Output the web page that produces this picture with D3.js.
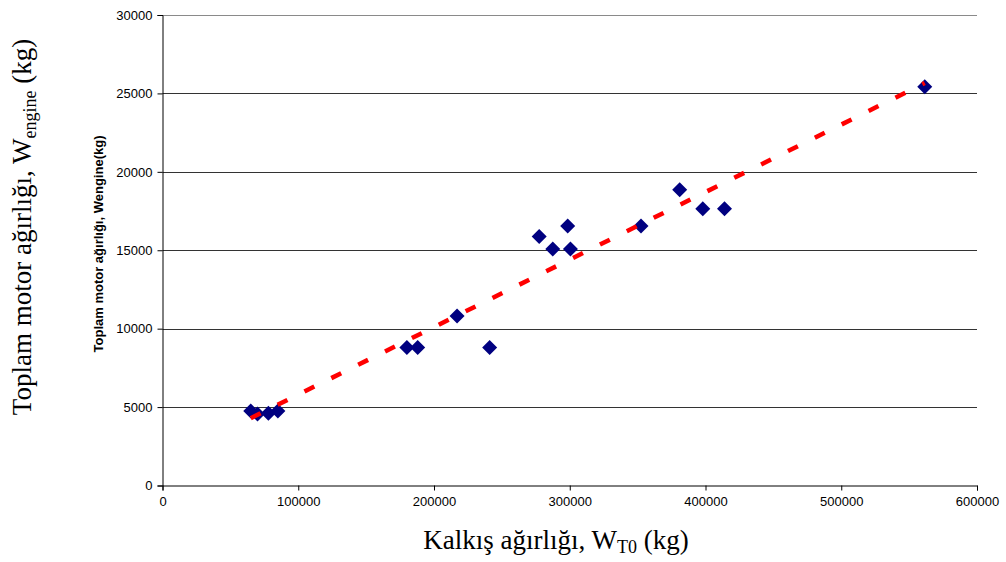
<!DOCTYPE html>
<html>
<head>
<meta charset="utf-8">
<script src="https://cdn.jsdelivr.net/npm/d3@7"></script>
<style>
  html, body { margin: 0; padding: 0; background: #fff; }
  svg { display: block; }
</style>
</head>
<body>
<svg id="chart" width="1006" height="562"></svg>
<script>
// Take-off weight (kg) and total engine weight (kg) per aircraft
const takeoffWeight = [65000, 70000, 78000, 85000, 180000, 188000, 217000, 241000,
  277500, 287500, 298500, 300500, 352500, 381000, 398000, 414000, 561500];
const engineWeight = [4750, 4560, 4600, 4750, 8800, 8800, 10800, 8800,
  15870, 15080, 16550, 15080, 16550, 18850, 17640, 17640, 25430];

const xTicks = [0, 100000, 200000, 300000, 400000, 500000, 600000];
const yTicks = [0, 5000, 10000, 15000, 20000, 25000, 30000];

const svg = d3.select("#chart");
const plotLeft = 162.5, plotRight = 977, plotTop = 15, plotBottom = 485.5;

const x = d3.scaleLinear().domain([0, 600000]).range([plotLeft, plotRight]);
const y = d3.scaleLinear().domain([0, 30000]).range([plotBottom, plotTop]);

// Horizontal gridlines
svg.append("g")
  .selectAll("line")
  .data(yTicks.filter(d => d > 0))
  .join("line")
  .attr("x1", plotLeft).attr("x2", plotRight)
  .attr("y1", d => Math.round(y(d)) + 0.5).attr("y2", d => Math.round(y(d)) + 0.5)
  .attr("stroke", d => d === 30000 ? "#8a8a8a" : "#333")
  .attr("stroke-width", 1);

// Y axis
const yAxis = svg.append("g")
  .attr("transform", `translate(${plotLeft},0)`)
  .call(d3.axisLeft(y).tickValues(yTicks).tickFormat(d3.format("d")).tickSize(5).tickPadding(5));
yAxis.select(".domain").attr("stroke", "#000");
yAxis.selectAll(".tick line").attr("stroke", "#000");
yAxis.selectAll("text").attr("font-family", "Liberation Sans, Arial, sans-serif")
  .attr("font-size", 13).attr("fill", "#000");

// X axis
const xAxis = svg.append("g")
  .attr("transform", `translate(0,${plotBottom})`)
  .call(d3.axisBottom(x).tickValues(xTicks).tickFormat(d3.format("d")).tickSize(5).tickPadding(6));
xAxis.select(".domain").attr("stroke", "#000");
xAxis.selectAll(".tick line").attr("stroke", "#000");
xAxis.selectAll("text").attr("font-family", "Liberation Sans, Arial, sans-serif")
  .attr("font-size", 13).attr("fill", "#000");

// Least-squares linear trend over the data range
const mx = d3.mean(takeoffWeight), my = d3.mean(engineWeight);
let sxy = 0, sxx = 0;
takeoffWeight.forEach((v, i) => { sxy += (v - mx) * (engineWeight[i] - my); sxx += (v - mx) * (v - mx); });
const slope = sxy / sxx, intercept = my - slope * mx;
const [xMin, xMax] = d3.extent(takeoffWeight);

// Data markers (diamonds)
const pts = takeoffWeight.map((v, i) => [v, engineWeight[i]]);
svg.append("g")
  .selectAll("path")
  .data(pts)
  .join("path")
  .attr("transform", d => `translate(${x(d[0])},${y(d[1])})`)
  .attr("d", "M0,-7.5L7.5,0L0,7.5L-7.5,0Z")
  .attr("fill", "#000080");

svg.append("line")
  .attr("x1", x(xMin)).attr("y1", y(intercept + slope * xMin))
  .attr("x2", x(xMax)).attr("y2", y(intercept + slope * xMax))
  .attr("stroke", "#ff0000")
  .attr("stroke-width", 4.5)
  .attr("stroke-dasharray", "11,19");

// Inner (chart) y-axis title
svg.append("text")
  .attr("transform", `translate(103,244) rotate(-90)`)
  .attr("text-anchor", "middle")
  .attr("font-family", "Liberation Sans, Arial, sans-serif")
  .attr("font-weight", "bold")
  .attr("font-size", 13)
  .text("Toplam motor ağırlığı, Wengine(kg)");

// Outer axis titles
const yt = svg.append("text")
  .attr("transform", `translate(31,227) rotate(-90)`)
  .attr("text-anchor", "middle")
  .attr("font-family", "Liberation Serif, Times New Roman, serif")
  .attr("font-size", 27);
yt.append("tspan").text("Toplam motor ağırlığı, W");
yt.append("tspan").attr("font-size", 18).attr("dy", 5).text("engine");
yt.append("tspan").attr("dy", -5).text(" (kg)");

const xt = svg.append("text")
  .attr("x", 556).attr("y", 549)
  .attr("text-anchor", "middle")
  .attr("font-family", "Liberation Serif, Times New Roman, serif")
  .attr("font-size", 27);
xt.append("tspan").text("Kalkış ağırlığı, W");
xt.append("tspan").attr("font-size", 18).attr("dy", 4).text("T0");
xt.append("tspan").attr("dy", -4).text(" (kg)");
</script>
</body>
</html>
